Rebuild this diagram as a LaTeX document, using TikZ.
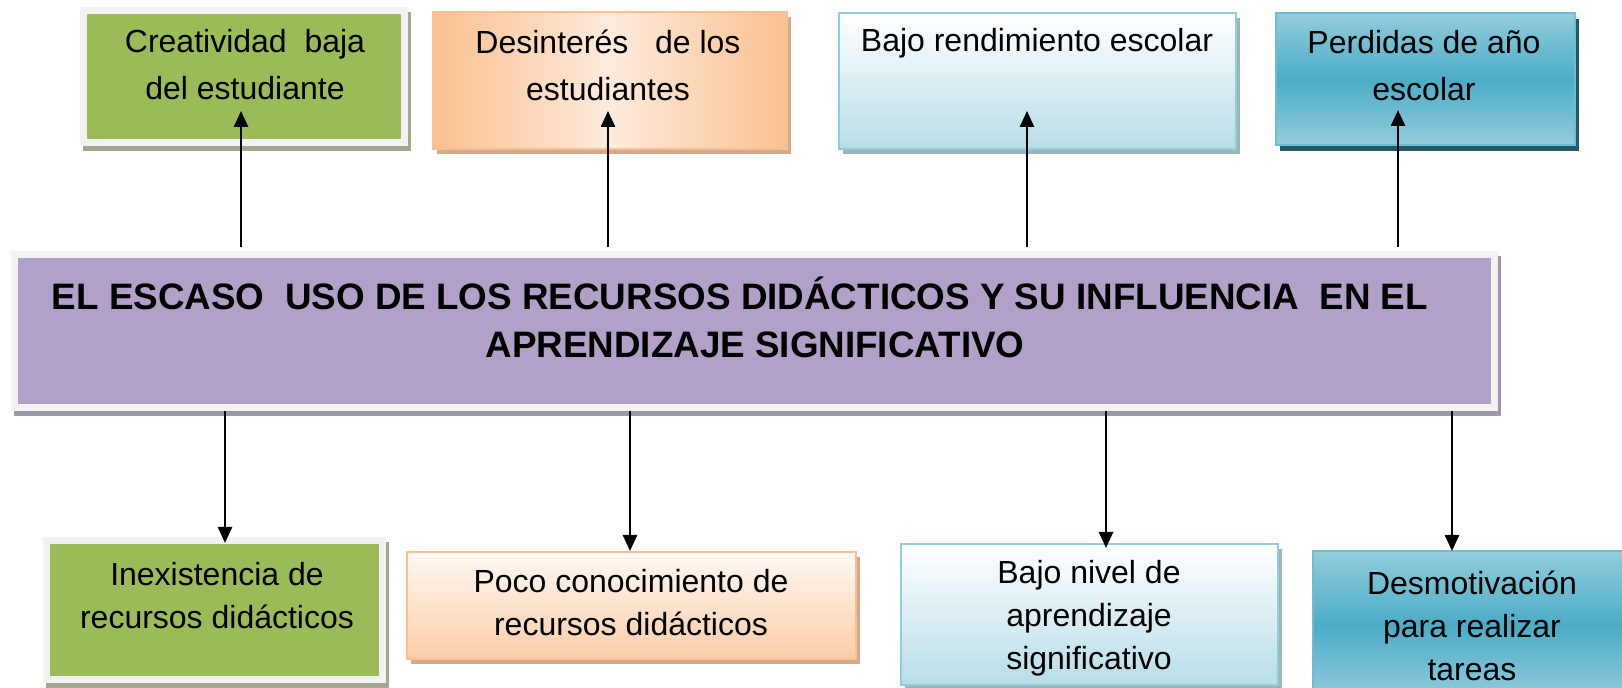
\documentclass[tikz,border=0pt]{standalone}
\usepackage{fontspec}
\setmainfont{Liberation Sans}
\usepackage{tikz}
\usetikzlibrary{arrows.meta,shadings,shadows,positioning}
\definecolor{vgreen}{HTML}{9BBB59}
\definecolor{vgreensh}{HTML}{A2A98E}
\definecolor{vgray}{HTML}{F2F2F2}
\definecolor{vorange}{HTML}{FAC090}
\definecolor{vorangel}{HTML}{FDEBDD}
\definecolor{vorangesh}{HTML}{D2A98D}
\definecolor{vblue}{HTML}{B7DDE8}
\definecolor{vblueb}{HTML}{92CDDC}
\definecolor{vbluesh}{HTML}{9EB2B9}
\definecolor{vteal}{HTML}{4BACC6}
\definecolor{vteall}{HTML}{93CDDD}
\definecolor{vtealsh}{HTML}{25596A}
\definecolor{vpurple}{HTML}{B1A0C7}
\definecolor{vpurplesh}{HTML}{9E97A8}
\tikzset{
  ebox/.style={rectangle, inner sep=0pt},
  egraybox/.style={ebox, draw=vgray, line width=3.5pt,
    general shadow={fill=#1, draw=#1, line width=3.5pt,
      shadow xshift=1.5pt, shadow yshift=-2.5pt}},
  egreen/.style={egraybox=vgreensh, fill=vgreen},
  etitlebox/.style={egraybox=vpurplesh, fill=vpurple},
  ethinbox/.style={ebox, draw=#1, line width=1pt},
  eorange/.style={ethinbox=vorange,
    general shadow={fill=vorangesh, shadow xshift=2pt, shadow yshift=-2.5pt}},
  eblue/.style={ethinbox=vblueb, top color=white, bottom color=vblue,
    general shadow={fill=vbluesh, shadow xshift=2pt, shadow yshift=-2.5pt}},
  eteal/.style={ethinbox=vteal!80, top color=vteall, bottom color=vteall,
    middle color=vteal,
    general shadow={fill=vtealsh, shadow xshift=2pt, shadow yshift=-3pt}},
  etxt/.style={align=center, inner sep=0pt, font=\fontsize{16}{23.5}\selectfont},
  etxtb/.style={etxt, font=\fontsize{16}{21.5}\selectfont},
  etitle/.style={align=center, inner sep=0pt, font=\bfseries\fontsize{18.4}{24}\selectfont},
  earrow/.style={-{Triangle[length=8pt,width=7pt]}, line width=1.25pt, draw=black},
}
\begin{document}
\begin{tikzpicture}[x=0.5pt, y=-0.5pt]
  \useasboundingbox (0,0) rectangle (1622,688);
  \clip (0,0) rectangle (1622,688);
  % efectos
  \node (g1) [egreen, minimum width=160.5pt, minimum height=66pt] at (244,76.5) {};
  \node (o1) [eorange, left color=vorange, right color=vorange, middle color=vorangel,
    minimum width=177pt, minimum height=68.5pt] at (610,80.5) {};
  \node (b1) [eblue, minimum width=198.5pt, minimum height=68pt] at (1037.5,81) {};
  \node (t1) [eteal, minimum width=149.5pt, minimum height=66pt] at (1425.5,79) {};
  % problema
  \node (m) [etitlebox, minimum width=740pt, minimum height=76.5pt] at (754.6,331) {};
  % causas
  \node (g2) [egreen, minimum width=168pt, minimum height=69.5pt] at (214.5,610) {};
  \node (o2) [eorange, top color=white!70!vorangel, bottom color=vorange!80,
    minimum width=224.5pt, minimum height=53.5pt] at (631.5,605.5) {};
  \node (b2) [eblue, minimum width=188.5pt, minimum height=70.5pt] at (1089.5,614.5) {};
  \node (t2) [eteal, minimum width=159pt, minimum height=74.5pt] at (1472,625.5) {};
  % textos
  \node (g1t) [etxt] at (245,64.5) {Creatividad\ \ baja\\del estudiante};
  \node (o1t) [etxt] at (608,65.5) {Desinterés\ \ \ de los\\estudiantes};
  \node (b1t) [etxt] at (1037,43) {Bajo rendimiento escolar};
  \node (t1t) [etxt] at (1424,65.5) {Perdidas de año\\escolar};
  \node (mt) [etitle] at (755,317) {EL ESCASO\ \ USO DE LOS RECURSOS DIDÁCTICOS Y SU INFLUENCIA\ \ EN EL\hspace*{15pt}\\APRENDIZAJE SIGNIFICATIVO};
  \node (g2t) [etxtb] at (217,595.5) {Inexistencia de\\recursos didácticos};
  \node (o2t) [etxtb] at (631,603) {Poco conocimiento de\\recursos didácticos};
  \node (b2t) [etxtb] at (1089,618) {Bajo nivel de\\aprendizaje\\significativo};
  \node (t2t) [etxtb] at (1472,626) {Desmotivación\\para realizar\\tareas};
  % flechas
  \coordinate (u1) at (241,111); \coordinate (u2) at (608,111);
  \coordinate (u3) at (1027,111); \coordinate (u4) at (1398,110);
  \coordinate (d1) at (225,543); \coordinate (d2) at (630,551);
  \coordinate (d3) at (1106,548); \coordinate (d4) at (1452,551);
  \draw[earrow, shorten <=1.75pt] (m.north -| u1) -- (u1);
  \draw[earrow, shorten <=1.75pt] (m.north -| u2) -- (u2);
  \draw[earrow, shorten <=1.75pt] (m.north -| u3) -- (u3);
  \draw[earrow, shorten <=1.75pt] (m.north -| u4) -- (u4);
  \draw[earrow] (m.south -| d1) -- (d1); \draw[earrow] (m.south -| d2) -- (d2);
  \draw[earrow] (m.south -| d3) -- (d3); \draw[earrow] (m.south -| d4) -- (d4);
\end{tikzpicture}
\end{document}
